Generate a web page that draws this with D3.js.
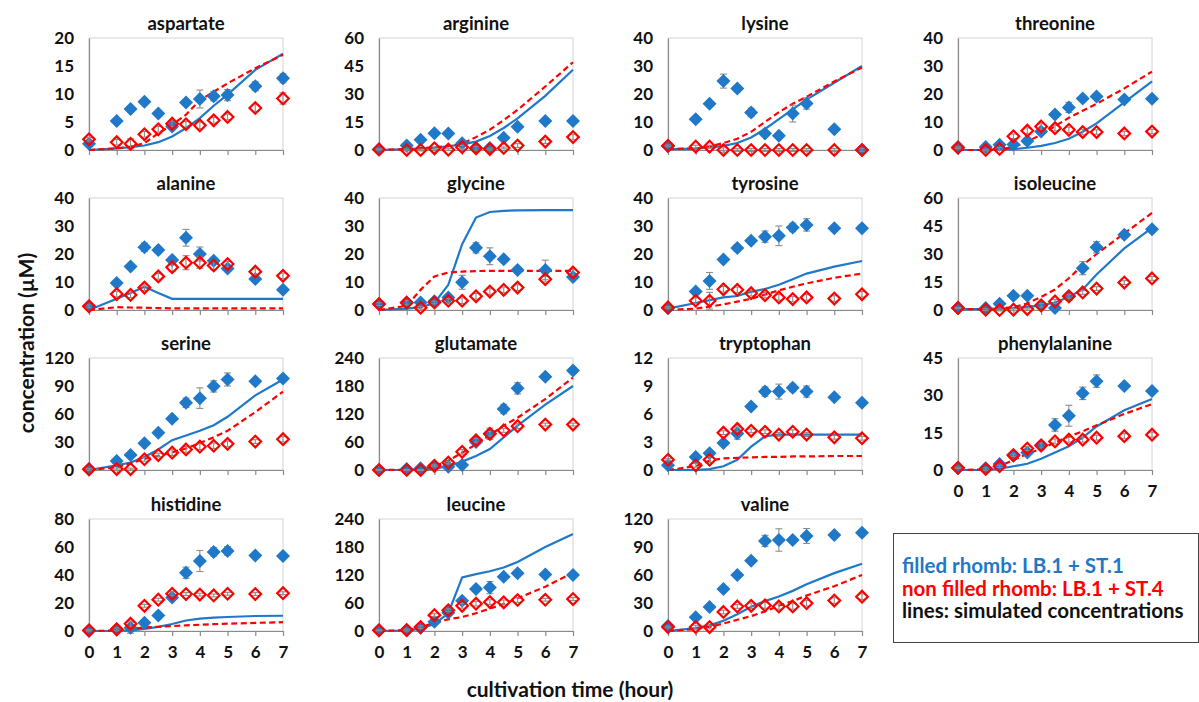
<!DOCTYPE html>
<html><head><meta charset="utf-8">
<script src="https://cdn.jsdelivr.net/npm/d3@7"></script>
<style>
html,body{margin:0;padding:0;background:#fff;}
svg{display:block;font-family:Lato,"Open Sans",sans-serif;}
</style></head>
<body><svg id="chart" width="1199" height="702"></svg>
<script>
// ---- data ----
const times = [0, 1, 1.5, 2, 2.5, 3, 3.5, 4, 4.5, 5, 6, 7];
const xTickValues = [0, 1, 2, 3, 4, 5, 6, 7];
const aminoAcids = ["aspartate","arginine","lysine","threonine","alanine","glycine","tyrosine","isoleucine",
                    "serine","glutamate","tryptophan","phenylalanine","histidine","leucine","valine"];
const yMaxima = [20, 60, 40, 40, 40, 40, 40, 60, 120, 240, 12, 45, 80, 240, 120];
const yTickSteps = [5, 15, 10, 10, 10, 10, 10, 15, 30, 60, 3, 15, 20, 60, 30];

// filled rhomb (LB.1 + ST.1), open rhomb (LB.1 + ST.4), simulated lines, error bars
const aspartateFilled = [1.1, 5.2, 7.3, 8.6, 6.5, 4.2, 8.5, 9.1, 9.6, 9.8, 11.4, 12.8];
const aspartateOpen   = [1.9, 1.4, 1.1, 2.8, 3.7, 4.7, 4.6, 4.4, 5.3, 5.9, 7.5, 9.2];
const aspartateSimFilled = [0, 0.3, 0.5, 0.8, 1.4, 2.4, 3.9, 5.7, 7.9, 9.9, 14.3, 17.2];
const aspartateSimOpen   = [0, 0.3, 0.6, 1.2, 3.0, 4.5, 6.3, 8.9, 10.4, 11.9, 14.6, 17.0];
const aspartateErrFilled = [0.3, 0.3, 0.5, 0.4, 0.4, 0.5, 0.5, 1.6, 0.8, 1.0, 0.8, 0.8];
const aspartateErrOpen   = [0.3, 0.5, 0.9, 0.5, 0.5, 0.5, 0.5, 0.6, 0.5, 0.5, 0.6, 1.0];

const arginineFilled = [0.3, 2.4, 5.5, 9.0, 8.8, 3.6, 1.1, 1.1, 6.5, 12.4, 15.6, 15.5];
const arginineOpen   = [0.3, 0, 0, 0.9, 0.2, 1.5, 0.9, 0.5, 1.1, 2.4, 4.5, 6.9];
const arginineSimFilled = [0, 0.5, 0.8, 1.2, 2.0, 3.0, 4.5, 7.5, 11.8, 16.9, 29, 43];
const arginineSimOpen   = [0, 0.5, 1.0, 1.5, 2.0, 3.3, 6.9, 10.9, 16, 21.5, 34, 47];
const arginineErrFilled = [0.3, 0.5, 0.5, 0.8, 0.8, 0.8, 0.8, 0.8, 1.0, 1.5, 1.0, 1.0];
const arginineErrOpen   = [0.3, 0.5, 0.5, 0.8, 0.5, 1.0, 1.0, 0.5, 0.5, 1.0, 1.0, 1.5];

const lysineFilled = [1.4, 11, 16.5, 24.6, 22, 13.4, 5.9, 5.1, 13, 16.6, 7.4, 0];
const lysineOpen   = [1.5, 1.2, 1.2, 0, 0, 0, 0, 0, 0, 0, 0, 0];
const lysineSimFilled = [0.3, 0.5, 0.9, 1.5, 2.5, 4.5, 7.5, 11, 14.5, 18, 24, 30];
const lysineSimOpen   = [0.3, 0.6, 1.2, 2.5, 4.0, 6.5, 10, 13.5, 16.5, 19, 24.5, 29.5];
const lysineErrFilled = [0.3, 1.0, 1.0, 2.5, 1.0, 1.5, 1.0, 0.8, 3.0, 2.0, 0.8, 0.3];
const lysineErrOpen   = [0.3, 0.5, 0.5, 0.8, 0.5, 0.5, 0.5, 0.5, 0.5, 0.5, 0.5, 0.5];

const threonineFilled = [1.1, 1.1, 1.9, 2.0, 3.2, 6.6, 12.7, 15.2, 18.4, 19.1, 18.0, 18.3];
const threonineOpen   = [0.8, 0, 0.4, 4.9, 6.9, 8.4, 7.8, 7.2, 6.4, 6.4, 5.9, 6.6];
const threonineSimFilled = [0, 0, 0.1, 0.3, 0.8, 1.5, 2.5, 4.0, 6.5, 9.5, 17, 24.5];
const threonineSimOpen   = [0, 0, 0.3, 1.0, 3.0, 5.5, 8.5, 11.5, 14, 16.5, 22, 28];
const threonineErrFilled = [0.3, 0.3, 0.5, 0.5, 0.5, 0.8, 1.0, 1.8, 1.0, 1.0, 1.0, 1.0];
const threonineErrOpen   = [0.3, 0.3, 0.5, 0.8, 1.0, 1.0, 1.0, 1.0, 1.0, 0.8, 0.8, 0.8];

const alanineFilled = [1.3, 9.6, 15.5, 22.4, 21.4, 17.9, 25.8, 20.0, 17.6, 14.8, 11.1, 7.2];
const alanineOpen   = [1.3, 5.7, 5.4, 8.0, 12.0, 15.3, 16.9, 16.9, 15.9, 16.4, 13.7, 12.2];
const alanineSimFilled = [0, 4.0, 6.1, 8.3, 6.1, 4.0, 4.0, 4.0, 4.0, 4.0, 4.0, 4.0];
const alanineSimOpen   = [0, 1.0, 0.9, 0.8, 0.7, 0.6, 0.6, 0.6, 0.6, 0.6, 0.6, 0.6];
const alanineErrFilled = [0.5, 1.0, 1.0, 1.5, 1.0, 1.0, 3.0, 2.5, 1.0, 1.0, 1.0, 0.8];
const alanineErrOpen   = [0.5, 1.0, 1.0, 1.0, 1.0, 1.5, 2.5, 2.0, 1.5, 1.0, 1.0, 1.0];

const glycineFilled = [2.1, 2.7, 2.7, 3.1, 4.5, 9.9, 22.2, 19.2, 18.1, 14.3, 14.3, 11.8];
const glycineOpen   = [2.1, 2.6, 0.8, 2.7, 3.3, 3.3, 4.9, 6.6, 7.2, 8.0, 11.0, 13.4];
const glycineSimFilled = [0, 0.5, 1.0, 2.5, 9.0, 23.5, 33, 35, 35.4, 35.6, 35.7, 35.7];
const glycineSimOpen   = [0, 1.5, 7.2, 12, 13.4, 13.7, 13.9, 14, 14, 14, 14, 14];
const glycineErrFilled = [0.5, 0.8, 0.5, 0.5, 0.8, 2.5, 1.8, 3.0, 1.0, 1.0, 3.5, 1.0];
const glycineErrOpen   = [0.5, 0.8, 0.5, 0.5, 0.8, 1.0, 1.0, 1.0, 1.0, 1.0, 1.0, 1.0];

const tyrosineFilled = [0.6, 6.6, 10.4, 18.0, 22.1, 24.7, 26.2, 26.5, 29.5, 30.4, 29.2, 29.2];
const tyrosineOpen   = [0.9, 3.3, 3.3, 7.4, 7.2, 6.0, 5.3, 4.5, 3.9, 4.5, 4.1, 5.6];
const tyrosineSimFilled = [0.5, 2.5, 3.5, 4.5, 5.0, 6.5, 7.5, 9.0, 11, 13, 15.5, 17.5];
const tyrosineSimOpen   = [0, 0.5, 1.2, 2.0, 3.0, 4.0, 5.5, 7.0, 8.3, 9.5, 11.5, 13];
const tyrosineErrFilled = [0.3, 0.8, 3.0, 1.0, 1.0, 1.0, 2.0, 3.5, 1.5, 2.2, 1.0, 1.0];
const tyrosineErrOpen   = [0.3, 1.0, 3.0, 1.0, 1.0, 1.0, 1.0, 1.0, 1.0, 1.0, 1.0, 1.0];

const isoleucineFilled = [1.1, 1.1, 3.4, 7.6, 7.6, 2.3, 1.1, 7.3, 22.4, 33.6, 40.3, 43.2];
const isoleucineOpen   = [1.1, 0.2, 0, 0.2, 0.5, 2.5, 4.6, 7.3, 9.4, 11.5, 14.7, 16.9];
const isoleucineSimFilled = [0.5, 0.5, 0.7, 1.0, 1.7, 2.5, 4.0, 7.0, 11, 19, 33, 44];
const isoleucineSimOpen   = [0.5, 0.5, 0.8, 1.5, 3.5, 7.0, 11, 17, 24, 30, 41, 52];
const isoleucineErrFilled = [0.3, 0.5, 0.8, 0.8, 0.8, 1.0, 1.0, 2.0, 3.5, 3.0, 1.5, 1.0];
const isoleucineErrOpen   = [0.3, 0.5, 0.5, 0.5, 0.5, 1.0, 1.0, 1.0, 1.0, 1.0, 1.0, 1.0];

const serineFilled = [0.7, 9.7, 16, 28.7, 40, 55, 72, 77, 89.6, 97, 95, 98];
const serineOpen   = [0.7, 1, 1, 11.5, 16, 18.6, 22, 25, 26, 28, 30.5, 33];
const serineSimFilled = [0, 5, 8, 14, 22, 32, 37, 42, 48, 57, 80, 97];
const serineSimOpen   = [0, 3, 7, 12, 15, 19, 23, 29, 35, 42, 62, 84];
const serineErrFilled = [1, 2, 2, 2, 2, 3, 5, 11, 6, 7, 3, 3];
const serineErrOpen   = [1, 1, 1, 2, 2, 3, 3, 3, 3, 3, 2, 3];

const glutamateFilled = [0, 2, 3.5, 8.5, 7, 10.6, 60, 77.6, 130.6, 175, 199.7, 213];
const glutamateOpen   = [0, 0, 0, 9, 16, 39, 63.5, 77.6, 84.7, 94, 97.4, 97.4];
const glutamateSimFilled = [0, 0, 1, 3, 8, 18, 30, 45, 70, 95, 140, 180];
const glutamateSimOpen   = [0, 0.5, 3, 8, 20, 37, 55, 75, 95, 112, 152, 198];
const glutamateErrFilled = [1, 2, 2, 2, 2, 3, 5, 12, 10, 12, 4, 4];
const glutamateErrOpen   = [1, 1, 1, 2, 3, 5, 4, 5, 4, 5, 3, 3];

const tryptophanFilled = [0.5, 1.4, 1.8, 2.9, 3.9, 6.8, 8.4, 8.4, 8.8, 8.4, 7.8, 7.2];
const tryptophanOpen   = [1.1, 0.5, 1.1, 4.0, 4.4, 4.2, 4.1, 3.8, 4.1, 3.8, 3.5, 3.4];
const tryptophanSimFilled = [0, 0, 0.1, 0.4, 1.1, 2.5, 3.6, 3.8, 3.8, 3.8, 3.8, 3.8];
const tryptophanSimOpen   = [0, 0.4, 1.0, 1.25, 1.3, 1.35, 1.4, 1.4, 1.45, 1.45, 1.5, 1.5];
const tryptophanErrFilled = [0.1, 0.2, 0.3, 0.2, 0.6, 0.3, 0.5, 0.8, 0.4, 0.6, 0.2, 0.2];
const tryptophanErrOpen   = [0.1, 0.2, 0.3, 0.2, 0.3, 0.2, 0.2, 0.2, 0.2, 0.2, 0.2, 0.2];

const phenylalanineFilled = [0.7, 0.7, 2.4, 5.7, 7.0, 9.7, 18.1, 21.8, 30.8, 35.7, 33.7, 31.7];
const phenylalanineOpen   = [0.9, 0.4, 1.5, 6.0, 8.6, 9.9, 11.5, 12.2, 12.2, 13.0, 13.6, 14.2];
const phenylalanineSimFilled = [0, 0, 0.5, 1.5, 2.5, 4.5, 7.0, 9.5, 13, 17.5, 24, 28.5];
const phenylalanineSimOpen   = [0, 0.2, 1.5, 4.0, 6.5, 8.5, 11, 13.5, 15.5, 18, 22.5, 26.5];
const phenylalanineErrFilled = [0.3, 0.5, 0.5, 0.8, 0.8, 1.5, 2.5, 4.2, 2.5, 2.5, 1.0, 1.0];
const phenylalanineErrOpen   = [0.3, 0.5, 0.5, 0.5, 0.8, 1.0, 1.0, 1.0, 1.0, 1.0, 1.0, 1.0];

const histidineFilled = [0, 1.2, 2.4, 5.9, 11, 24, 41.6, 50, 56.5, 57.2, 54, 53.6];
const histidineOpen   = [0.5, 1.2, 5.2, 18, 22.4, 26.6, 26.4, 26, 25.4, 26.6, 26.4, 27];
const histidineSimFilled = [0, 0, 0.5, 1.5, 3, 5, 7.5, 8.8, 9.5, 10, 10.7, 10.9];
const histidineSimOpen   = [0, 0.3, 1.5, 2.5, 3, 3.5, 4, 4.5, 4.9, 5.2, 5.8, 6.3];
const histidineErrFilled = [0.5, 1, 4, 1, 1, 1.5, 4, 7.5, 3, 3, 1.5, 1.5];
const histidineErrOpen   = [0.5, 1, 2, 1, 1, 1.5, 1, 1, 1, 1, 1, 1];

const leucineFilled = [1.4, 1.4, 7, 20, 39, 65, 90, 93, 116, 123.5, 121, 120];
const leucineOpen   = [1.4, 2, 8.5, 34, 44.5, 54, 58.6, 62, 61.4, 66.4, 67, 68.5];
const leucineSimFilled = [0, 1, 5, 15, 38, 115, 122, 128, 136, 148, 180, 208];
const leucineSimOpen   = [0, 2, 8, 18, 25, 30, 38, 48, 58, 70, 95, 125];
const leucineErrFilled = [1, 2, 3, 3, 3, 5, 5, 13, 5, 5, 4, 4];
const leucineErrOpen   = [1, 2, 3, 3, 3, 5, 5, 5, 5, 5, 3, 3];

const valineFilled = [5.3, 14.7, 25.6, 45, 60, 75.4, 96.5, 97.5, 97.5, 101.8, 102.8, 105.3];
const valineOpen   = [4.2, 4.2, 4.2, 20.4, 26.3, 27, 27.4, 26.3, 26.3, 29.8, 32.6, 36.8];
const valineSimFilled = [0, 3, 6, 11, 18, 26, 32, 37, 43, 50, 62, 72];
const valineSimOpen   = [0, 2, 4.5, 8, 12, 16, 21, 27, 32, 38, 48, 60];
const valineErrFilled = [1, 2, 2, 2, 2, 3, 6, 12, 3, 8, 3, 3];
const valineErrOpen   = [1, 2, 2, 2, 2, 3, 3, 3, 3, 3, 3, 3];

const legendLines = ["filled rhomb: LB.1 + ST.1", "non filled rhomb: LB.1 + ST.4", "lines: simulated concentrations"];
const yAxisTitle = "concentration (µM)";
const xAxisTitle = "cultivation time (hour)";

// ---- assemble ----
const seriesByAcid = {
  aspartate: [aspartateFilled, aspartateOpen, aspartateSimFilled, aspartateSimOpen, aspartateErrFilled, aspartateErrOpen],
  arginine: [arginineFilled, arginineOpen, arginineSimFilled, arginineSimOpen, arginineErrFilled, arginineErrOpen],
  lysine: [lysineFilled, lysineOpen, lysineSimFilled, lysineSimOpen, lysineErrFilled, lysineErrOpen],
  threonine: [threonineFilled, threonineOpen, threonineSimFilled, threonineSimOpen, threonineErrFilled, threonineErrOpen],
  alanine: [alanineFilled, alanineOpen, alanineSimFilled, alanineSimOpen, alanineErrFilled, alanineErrOpen],
  glycine: [glycineFilled, glycineOpen, glycineSimFilled, glycineSimOpen, glycineErrFilled, glycineErrOpen],
  tyrosine: [tyrosineFilled, tyrosineOpen, tyrosineSimFilled, tyrosineSimOpen, tyrosineErrFilled, tyrosineErrOpen],
  isoleucine: [isoleucineFilled, isoleucineOpen, isoleucineSimFilled, isoleucineSimOpen, isoleucineErrFilled, isoleucineErrOpen],
  serine: [serineFilled, serineOpen, serineSimFilled, serineSimOpen, serineErrFilled, serineErrOpen],
  glutamate: [glutamateFilled, glutamateOpen, glutamateSimFilled, glutamateSimOpen, glutamateErrFilled, glutamateErrOpen],
  tryptophan: [tryptophanFilled, tryptophanOpen, tryptophanSimFilled, tryptophanSimOpen, tryptophanErrFilled, tryptophanErrOpen],
  phenylalanine: [phenylalanineFilled, phenylalanineOpen, phenylalanineSimFilled, phenylalanineSimOpen, phenylalanineErrFilled, phenylalanineErrOpen],
  histidine: [histidineFilled, histidineOpen, histidineSimFilled, histidineSimOpen, histidineErrFilled, histidineErrOpen],
  leucine: [leucineFilled, leucineOpen, leucineSimFilled, leucineSimOpen, leucineErrFilled, leucineErrOpen],
  valine: [valineFilled, valineOpen, valineSimFilled, valineSimOpen, valineErrFilled, valineErrOpen]
};

const BLUE = "#1f78c8", RED = "#ff0000", GREY = "#8a8a8a";
const colLeft = [89, 379, 668, 958];
const rowTop = [38, 198, 358, 519];
const plotW = 194, plotH = 112;

const svg = d3.select("#chart");
const diamond = r => `M0,${-r}L${r},0L0,${r}L${-r},0Z`;

aminoAcids.forEach((name, i) => {
  const row = Math.floor(i / 4), col = i % 4;
  const [filled, open, simF, simO, errF, errO] = seriesByAcid[name];
  const g = svg.append("g").attr("transform", `translate(${colLeft[col]},${rowTop[row]})`);
  const x = d3.scaleLinear().domain([0, 7]).range([0, plotW]);
  const y = d3.scaleLinear().domain([0, yMaxima[i]]).range([plotH, 0]);
  const yTicks = d3.range(0, yMaxima[i] + 1e-9, yTickSteps[i]);

  // frame
  g.append("rect").attr("x", 0).attr("y", 0).attr("width", plotW).attr("height", plotH)
    .attr("fill", "none").attr("stroke", "#d4d4d4").attr("stroke-width", 1);

  // title
  g.append("text").attr("x", plotW / 2).attr("y", -8).attr("text-anchor", "middle")
    .attr("font-size", 18.5).attr("font-weight", "bold").attr("fill", "#111").text(name);

  // y axis
  const ya = g.append("g").call(d3.axisLeft(y).tickValues(yTicks).tickSize(0).tickPadding(15).tickFormat(d3.format("d")));
  ya.select(".domain").attr("stroke", GREY).attr("stroke-width", 1.2);
  ya.selectAll("text").attr("font-size", 17).attr("font-weight", "bold").attr("fill", "#111")
    .attr("font-family", "Lato, sans-serif");

  // x axis
  const showLabels = (row === 3) || (i === 11);
  const xa = g.append("g").attr("transform", `translate(0,${plotH})`)
    .call(d3.axisBottom(x).tickValues(xTickValues).tickSize(5).tickSizeOuter(0).tickPadding(10)
      .tickFormat(showLabels ? d3.format("d") : () => ""));
  xa.select(".domain").attr("stroke", GREY).attr("stroke-width", 1.2);
  xa.selectAll(".tick line").attr("stroke", GREY).attr("stroke-width", 1.2);
  xa.selectAll("text").attr("font-size", 17).attr("font-weight", "bold").attr("fill", "#111")
    .attr("font-family", "Lato, sans-serif");

  // simulated lines
  const line = d3.line().x((d, k) => x(times[k])).y(d => y(d));
  g.append("path").datum(simF).attr("d", line).attr("fill", "none").attr("stroke", BLUE).attr("stroke-width", 2.2);
  g.append("path").datum(simO).attr("d", line).attr("fill", "none").attr("stroke", RED).attr("stroke-width", 2.2)
    .attr("stroke-dasharray", "6,3.5");

  const drawErr = (vals, errs) => {
    const eg = g.append("g").attr("stroke", "#8c8c8c").attr("stroke-width", 1.1);
    vals.forEach((v, k) => {
      const cx = x(times[k]), y1 = y(v - errs[k]), y2 = y(v + errs[k]);
      eg.append("line").attr("x1", cx).attr("x2", cx).attr("y1", y1).attr("y2", y2);
      eg.append("line").attr("x1", cx - 3.5).attr("x2", cx + 3.5).attr("y1", y1).attr("y2", y1);
      eg.append("line").attr("x1", cx - 3.5).attr("x2", cx + 3.5).attr("y1", y2).attr("y2", y2);
    });
  };

  drawErr(filled, errF);
  g.append("g").selectAll("path").data(filled).join("path")
    .attr("transform", (d, k) => `translate(${x(times[k])},${y(d)})`)
    .attr("d", diamond(7)).attr("fill", BLUE);
  drawErr(open, errO);
  g.append("g").selectAll("path").data(open).join("path")
    .attr("transform", (d, k) => `translate(${x(times[k])},${y(d)})`)
    .attr("d", diamond(5.8)).attr("fill", "none").attr("stroke", RED).attr("stroke-width", 2.2);
});

// axis titles
svg.append("text").attr("transform", "translate(34,343) rotate(-90)").attr("text-anchor", "middle")
  .attr("font-size", 21).attr("font-weight", "bold").attr("fill", "#111").text(yAxisTitle);
svg.append("text").attr("x", 570).attr("y", 697).attr("text-anchor", "middle")
  .attr("font-size", 21).attr("font-weight", "bold").attr("fill", "#111").text(xAxisTitle);

// legend
const lg = svg.append("g");
lg.append("rect").attr("x", 893.5).attr("y", 533.5).attr("width", 305).attr("height", 109)
  .attr("fill", "#fff").attr("stroke", "#444").attr("stroke-width", 1);
const legendColors = [BLUE, RED, "#111"];
lg.selectAll("text").data(legendLines).join("text")
  .attr("x", 902).attr("y", (d, k) => 573 + k * 22.5)
  .attr("font-size", 20.5).attr("font-weight", "bold").attr("fill", (d, k) => legendColors[k]).text(d => d);
</script></body></html>
